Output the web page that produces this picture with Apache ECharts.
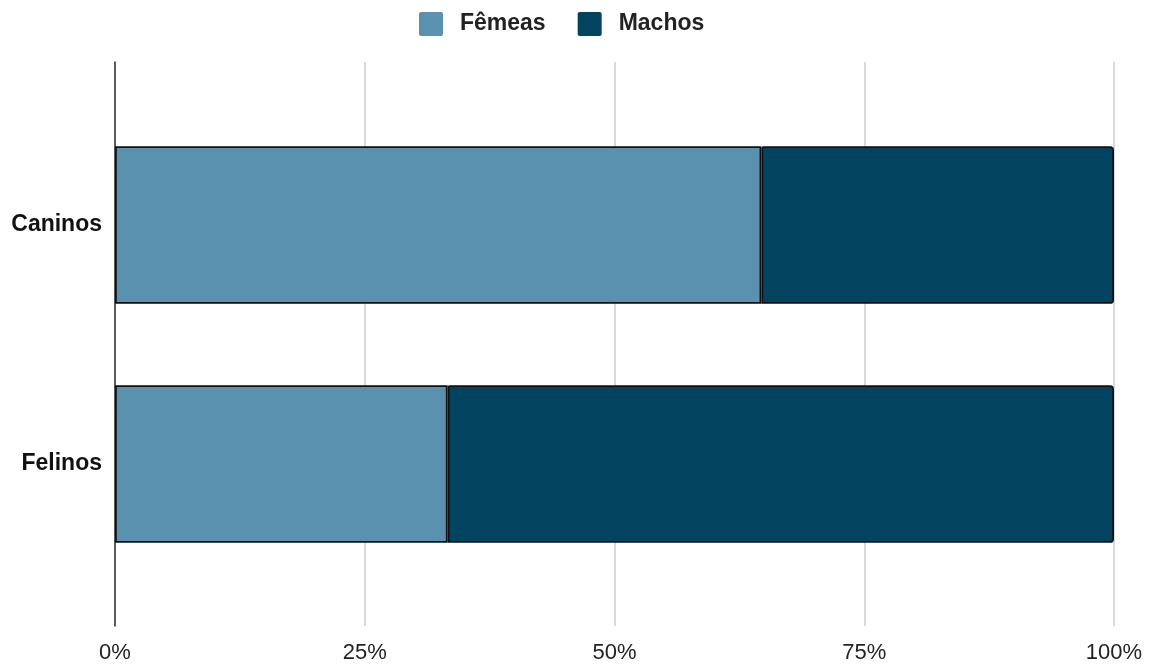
<!DOCTYPE html>
<html>
<head>
<meta charset="utf-8">
<script src="https://cdn.jsdelivr.net/npm/echarts@6/dist/echarts.min.js"></script>
<style>
  html, body { margin: 0; padding: 0; background: #fff; }
  #chart { width: 1154px; height: 664px; }
</style>
</head>
<body>
<div id="chart"></div>
<script>
// Distribuição por sexo (%) em cada espécie
const categories = ['Caninos', 'Felinos'];
const femeas = [64.7, 33.3];
const machos = [35.3, 66.7];
const seriesNames = ['Fêmeas', 'Machos'];
const xTicks = [0, 25, 50, 75, 100];

const FONT = '"Liberation Sans", Arial, sans-serif';
const colors = ['#5a91ae', '#02445f'];

const chart = echarts.init(document.getElementById('chart'));

const gridLeft = 115, gridRight = 40;

chart.setOption({
  animation: false,
  color: colors,
  legend: {
    top: 12,
    left: 419,
    padding: 0,
    itemWidth: 24,
    itemHeight: 24,
    itemGap: 32,
    icon: 'path://M2,0H22Q24,0,24,2V22Q24,24,22,24H2Q0,24,0,22V2Q0,0,2,0Z',
    data: seriesNames,
    itemStyle: { borderWidth: 0 },
    textStyle: { fontFamily: FONT, fontSize: 23, fontWeight: 'bold', color: '#222', padding: [0, 0, 0, 12] }
  },
  grid: [
    // frame: gridlines, axis line and tick labels
    { left: gridLeft, right: gridRight, top: 62, bottom: 38 },
    // bars
    { left: gridLeft, right: gridRight, top: 105.5, bottom: 80.5 }
  ],
  xAxis: [
    {
      gridIndex: 0, type: 'value', min: xTicks[0], max: xTicks[xTicks.length - 1], interval: 25,
      axisLine: { show: false }, axisTick: { show: false },
      splitLine: { lineStyle: { color: '#cccccc', width: 1.5 } },
      axisLabel: { margin: 16, fontFamily: FONT, fontSize: 22, color: '#222', formatter: '{value}%' }
    },
    {
      gridIndex: 1, type: 'value', min: 0, max: 100, show: false
    }
  ],
  yAxis: [
    {
      gridIndex: 0, type: 'category', data: categories, inverse: true,
      axisLine: { show: true, lineStyle: { color: '#333', width: 1.5 } },
      axisTick: { show: false }, axisLabel: { show: false }, splitLine: { show: false }
    },
    {
      gridIndex: 1, type: 'category', data: categories, inverse: true,
      axisLine: { show: false }, axisTick: { show: false },
      axisLabel: { margin: 13, fontFamily: FONT, fontSize: 23, fontWeight: 'bold', color: '#111' }
    }
  ],
  series: [
    {
      name: seriesNames[0], type: 'bar', stack: 'total', xAxisIndex: 1, yAxisIndex: 1,
      data: femeas, barCategoryGap: '34%',
      itemStyle: { color: colors[0], borderColor: '#111', borderWidth: 1.8 }
    },
    {
      name: seriesNames[1], type: 'bar', stack: 'total', xAxisIndex: 1, yAxisIndex: 1,
      data: machos, barCategoryGap: '34%',
      itemStyle: { color: colors[1], borderColor: '#111', borderWidth: 1.8, borderRadius: [0, 3, 3, 0] }
    }
  ]
});
</script>
</body>
</html>
